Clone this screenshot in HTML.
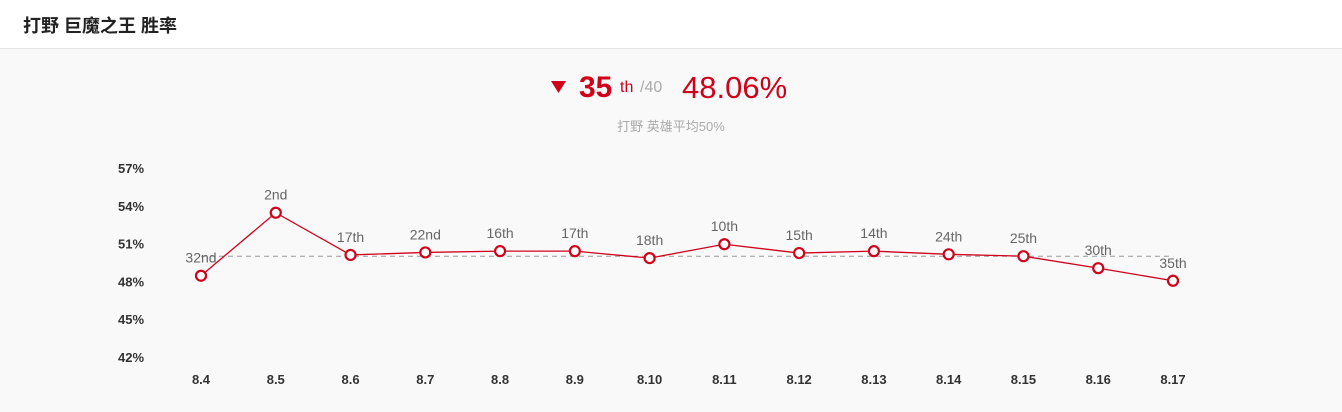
<!DOCTYPE html>
<html><head><meta charset="utf-8"><style>
body{margin:0;width:1342px;height:412px;background:#f9f9f9;font-family:"Liberation Sans","Noto Sans CJK SC",sans-serif;overflow:hidden;position:relative}
#hdr{position:absolute;left:0;top:0;width:1342px;height:48px;background:#fff;border-bottom:1px solid #e3e3e3}
#title{position:absolute;left:23px;top:12px;font-size:18px;font-weight:bold;color:#222}
#stat{position:absolute;left:0;top:66px;width:1342px;height:40px}
#sub{position:absolute;left:0;top:116px;width:1342px;text-align:center;font-size:13px;color:#aaa}
</style></head><body>
<div id="hdr"><div id="title">打野 巨魔之王 胜率</div></div>
<div id="stat">
<svg width="1342" height="40">
<polygon points="551,81 566,81 558.5,93" transform="translate(0,-66)" fill="#d0021b"/>
<text x="579" y="31" font-size="30" font-weight="bold" fill="#d0021b">35</text>
<text x="620" y="26" font-size="16" fill="#d0021b">th</text>
<text x="640" y="26" font-size="16" fill="#aaa">/40</text>
<text x="682" y="32" font-size="31" fill="#d0021b">48.06%</text>
</svg></div>
<div id="sub">打野 英雄平均50%</div>
<svg id="chart" width="1342" height="412" style="position:absolute;left:0;top:0"></svg>
<script>
const categories=["8.4","8.5","8.6","8.7","8.8","8.9","8.10","8.11","8.12","8.13","8.14","8.15","8.16","8.17"];
const winRates=[48.45,53.45,50.1,50.3,50.4,50.4,49.85,50.95,50.25,50.4,50.15,50.0,49.05,48.05];
const rankLabels=["32nd","2nd","17th","22nd","16th","17th","18th","10th","15th","14th","24th","25th","30th","35th"];
const yTicks=[57,54,51,48,45,42];
const average=50;
const NS="http://www.w3.org/2000/svg";
const svg=document.getElementById('chart');
const x=i=>201+i*(1173-201)/(categories.length-1);
const y=v=>168+(57-v)*(357-168)/15;
function mk(t,a,txt){const e=document.createElementNS(NS,t);for(const k in a)e.setAttribute(k,a[k]);if(txt!=null)e.textContent=txt;svg.appendChild(e);return e;}
yTicks.forEach(v=>{const e=mk('text',{x:118,y:y(v)+5,'font-size':13,'font-weight':'bold',fill:'#333'},v+'%');

});
categories.forEach((c,i)=>{const e=mk('text',{x:x(i),y:384,'font-size':13,'font-weight':'bold',fill:'#333','text-anchor':'middle'},c);

});
const avg=mk('line',{x1:x(0),x2:x(categories.length-1),y1:y(average),y2:y(average),stroke:'#999','stroke-dasharray':'5,4','stroke-width':1});


const ln=mk('polyline',{points:winRates.map((v,i)=>x(i)+','+y(v)).join(' '),fill:'none',stroke:'#d0021b','stroke-width':1.3});


winRates.forEach((v,i)=>{
const c=mk('circle',{cx:x(i),cy:y(v),r:5,fill:'#fff',stroke:'#d0021b','stroke-width':2.2});


const t=mk('text',{x:x(i),y:y(v)-13,'font-size':14,fill:'#666','text-anchor':'middle'},rankLabels[i]);


});
</script>
</body></html>
